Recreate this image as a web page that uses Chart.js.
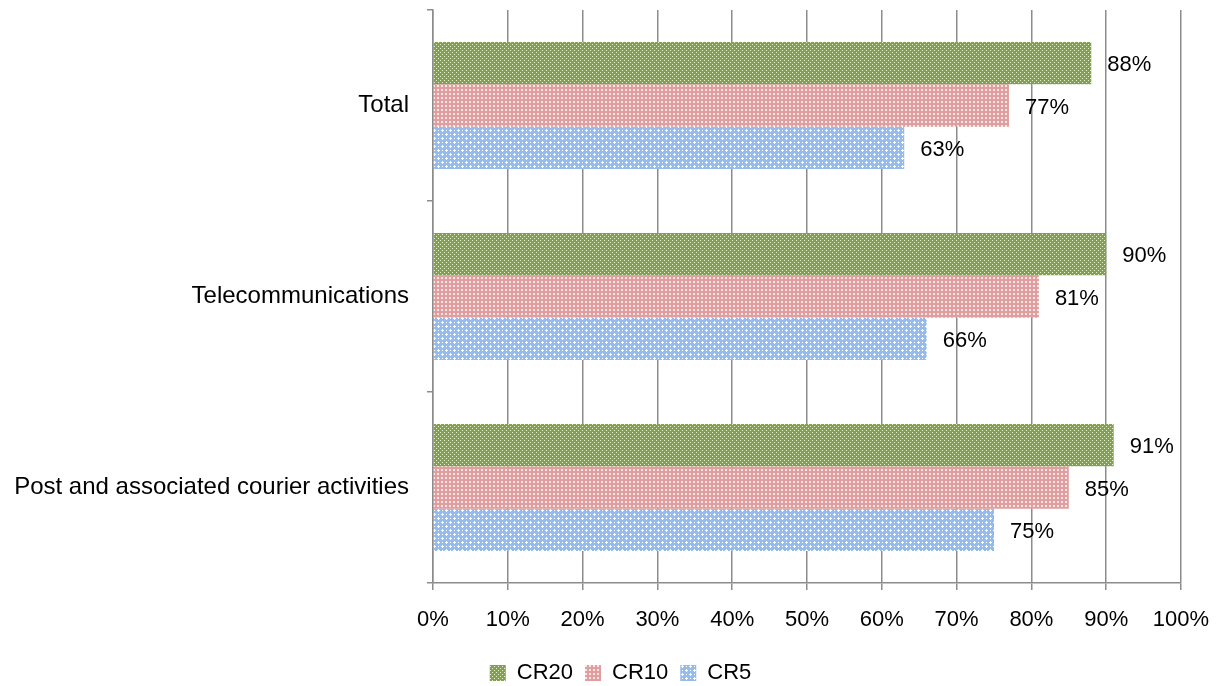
<!DOCTYPE html>
<html>
<head>
<meta charset="utf-8">
<title>Concentration ratios</title>
<script src="https://cdn.jsdelivr.net/npm/chart.js@4.4.1/dist/chart.umd.min.js"></script>
<style>
  html, body { margin: 0; padding: 0; background: #fff; }
  #wrap { width: 1217px; height: 686px; position: relative; }
</style>
</head>
<body>
<div id="wrap"><canvas id="crChart"></canvas></div>
<script>
const sectors = ['Total', 'Telecommunications', 'Post and associated courier activities'];
const seriesNames = ['CR20', 'CR10', 'CR5'];
const cr20 = [88, 90, 91];
const cr10 = [77, 81, 85];
const cr5 = [63, 66, 75];
const xTicks = [0, 10, 20, 30, 40, 50, 60, 70, 80, 90, 100];

const FONT = "'Liberation Sans', Arial, sans-serif";
const GRID = '#8c8c8c';

// small hatch tiles for the bar fills
function makeTile(bg, fg, dots) {
  const c = document.createElement('canvas');
  c.width = 8; c.height = 8;
  const g = c.getContext('2d');
  g.fillStyle = bg;
  g.fillRect(0, 0, 8, 8);
  g.fillStyle = fg;
  dots.forEach(([x, y, w, h]) => g.fillRect(x, y, w || 1, h || 1));
  return g.createPattern(c, 'repeat');
}

// white plus shapes centred on (cx, cy)
function plus(cx, cy) {
  return [[cx - 1, cy, 3, 1], [cx, cy - 1, 1, 3]];
}

const greenFill = makeTile('#82a249', '#e6eed9', [[2, 2], [6, 6], [2, 6], [6, 2], [0, 4], [4, 0], [4, 4], [0, 0]]);
const pinkFill = makeTile('#e29e9e', '#f9e6e6', [[1, 1, 2, 2], [5, 1, 2, 2], [1, 5, 2, 2], [5, 5, 2, 2]]);
const blueFill = makeTile('#96bbea', '#ffffff', [...plus(2, 2), ...plus(6, 6), [6, 2], [2, 6]]);

// percent labels next to each bar end
const valueLabels = {
  id: 'valueLabels',
  afterDatasetsDraw(chart) {
    const ctx = chart.ctx;
    ctx.save();
    ctx.font = '22px ' + FONT;
    ctx.fillStyle = '#000';
    ctx.textAlign = 'left';
    ctx.textBaseline = 'middle';
    chart.data.datasets.forEach((ds, i) => {
      chart.getDatasetMeta(i).data.forEach((bar, j) => {
        ctx.fillText(ds.data[j] + '%', bar.x + 16, bar.y + 2);
      });
    });
    ctx.restore();
  }
};

// nudge the legend a bit right and down
const legendShift = {
  id: 'legendShift',
  afterLayout(chart) {
    const lg = chart.legend;
    lg.left += 30; lg.right += 30;
    lg.top += 8; lg.bottom += 8;
  }
};

new Chart(document.getElementById('crChart'), {
  type: 'bar',
  data: {
    labels: sectors,
    datasets: [
      { label: seriesNames[0], data: cr20, backgroundColor: greenFill },
      { label: seriesNames[1], data: cr10, backgroundColor: pinkFill },
      { label: seriesNames[2], data: cr5, backgroundColor: blueFill }
    ]
  },
  options: {
    indexAxis: 'y',
    responsive: true,
    maintainAspectRatio: false,
    animation: false,
    layout: { padding: { top: 10, right: 36, left: 0, bottom: 0 } },
    datasets: {
      bar: { barPercentage: 1, categoryPercentage: 0.665, borderWidth: 0 }
    },
    scales: {
      x: {
        min: 0,
        max: 100,
        afterBuildTicks(scale) {
          scale.ticks = xTicks.map(v => ({ value: v }));
        },
        afterFit(scale) {
          scale.height = 59;
          scale.paddingLeft = 0;
          scale.paddingRight = 0;
        },
        grid: { color: GRID, lineWidth: 1.5, tickLength: 7, drawTicks: true },
        border: { color: GRID, width: 1.5 },
        ticks: {
          color: '#000',
          font: { family: FONT, size: 22 },
          padding: 17,
          callback: v => v + '%'
        }
      },
      y: {
        afterFit(scale) {
          scale.width = 433;
          scale.paddingTop = 0;
          scale.paddingBottom = 0;
        },
        grid: { color: GRID, lineWidth: 1.5, drawOnChartArea: false, tickLength: 6, offset: true },
        border: { color: GRID, width: 1.5 },
        ticks: {
          color: '#000',
          font: { family: FONT, size: 24 },
          padding: 18
        }
      }
    },
    plugins: {
      legend: {
        position: 'bottom',
        labels: {
          color: '#000',
          font: { family: FONT, size: 22 },
          boxWidth: 16,
          boxHeight: 16,
          padding: 12
        }
      },
      tooltip: { enabled: false }
    }
  },
  plugins: [valueLabels, legendShift]
});
</script>
</body>
</html>
